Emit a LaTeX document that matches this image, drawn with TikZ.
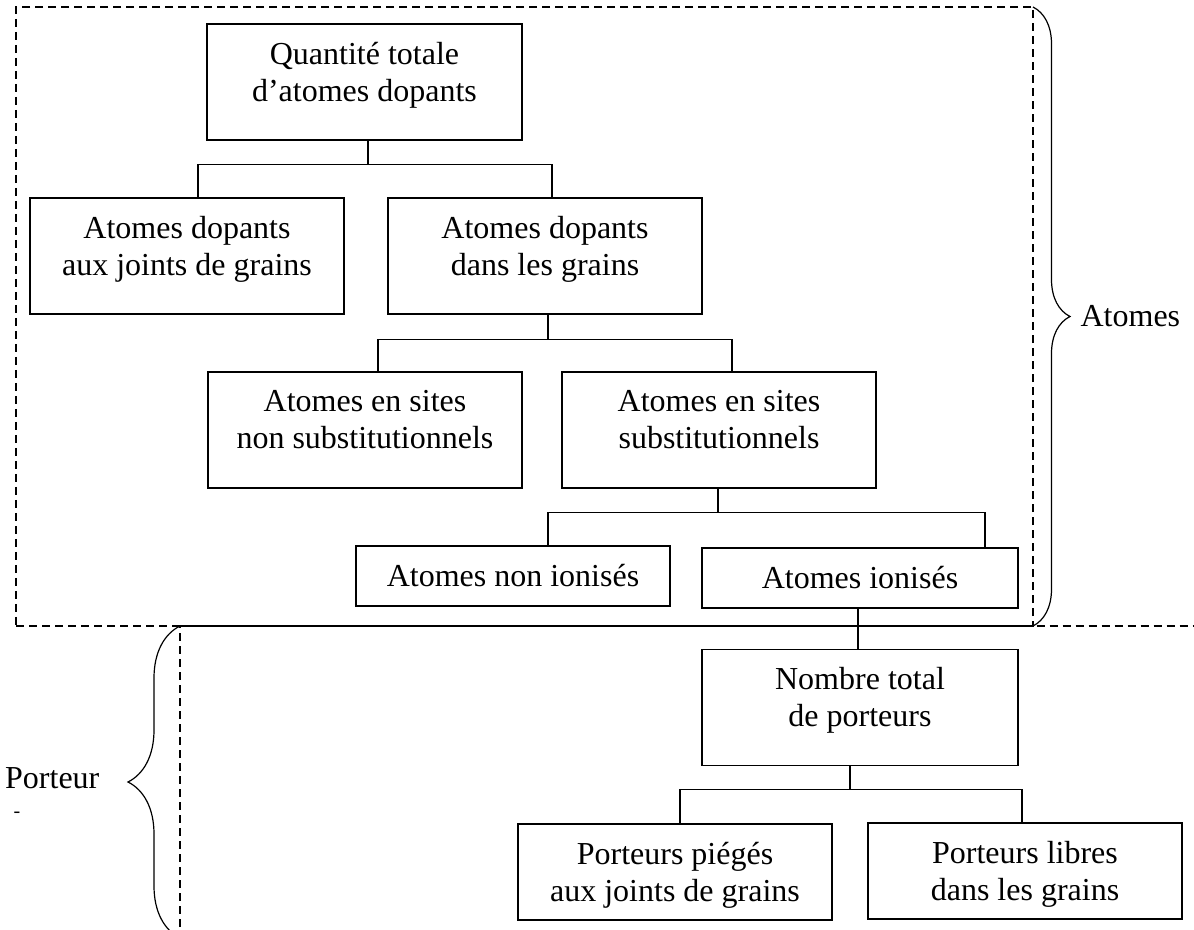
\documentclass[tikz,border=0pt]{standalone}
\usepackage{fontspec}
\setmainfont{Liberation Serif}
\usetikzlibrary{decorations.pathreplacing,positioning}

\begin{document}
\begin{tikzpicture}[
  x=0.5pt, y=-0.5pt,
  font=\fontsize{16}{18.5}\selectfont,
  box/.style={draw, line width=0.6pt, align=center, inner sep=0pt, minimum width=157pt},
  tall/.style={box, minimum height=58pt, text depth=10.4pt},
  flat/.style={box, minimum height=30pt},
  low/.style={box, minimum height=48pt},
  link/.style={line width=0.6pt},
  zone/.style={line width=0.6pt, dash pattern=on 4pt off 2.5pt},
  brc/.style={line width=0.6pt, decorate, decoration={brace, amplitude=#1}},
  lbl/.style={inner sep=0pt},
]
  \useasboundingbox (0,0) rectangle (1194,930);

  % ---------------- atoms ----------------
  \node[tall, minimum width=157.5pt] (tot) at (364.5,82) {Quantité totale\\d’atomes dopants};
  \node[tall] (djg) at (187,256) {Atomes dopants\\aux joints de grains};
  \node[tall] (dgr) at (545,256) {Atomes dopants\\dans les grains};
  \node[tall] (nsub) at (365,430) {Atomes en sites\\non substitutionnels};
  \node[tall] (sub) at (719,430) {Atomes en sites\\substitutionnels};
  \node[flat] (nion) at (513,576) {Atomes non ionisés};
  \node[flat, minimum width=158pt] (ion) at (860,578) {Atomes ionisés};

  % ---------------- carriers ----------------
  \node[tall, minimum width=158pt, below=20pt of ion] (port) {Nombre total\\de porteurs};
  \node[low, text depth=0pt] (pieg) at (675,872) {Porteurs piégés\\aux joints de grains};
  \node[low, text depth=0pt] (libr) at (1025,871) {Porteurs libres\\dans les grains};

  % tree links
  \draw[link] ([xshift=1.75pt]tot.south) -- ++(0,24) coordinate (j1);
  \draw[link] ([xshift=5.5pt]djg.north) |- (j1) -| ([xshift=3.5pt]dgr.north);
  \draw[link] ([xshift=1.5pt]dgr.south) -- ++(0,25) coordinate (j2);
  \draw[link] ([xshift=6.5pt]nsub.north) |- (j2) -| ([xshift=6.5pt]sub.north);
  \draw[link] ([xshift=-0.5pt]sub.south) -- ++(0,24) coordinate (j3);
  \draw[link] ([xshift=17.5pt]nion.north) |- (j3) -| ([xshift=62.5pt]ion.north);
  \draw[link] ([xshift=-1pt]ion.south) -- ([xshift=-1pt]port.north);
  \draw[link] ([xshift=-5pt]port.south) -- ++(0,24) coordinate (j4);
  \draw[link] ([xshift=2.5pt]pieg.north) |- (j4) -| ([xshift=-1.5pt]libr.north);

  % dashed zones and braces
  \draw[zone] (16,626) -- (1033,626) -- (1033,7) -- (16,7) -- cycle;
  \draw[zone, dash phase=0.75pt] (180,938) -- (180,626) -- (1194,626);
  \draw[brc=18.5pt] (1033,7) -- (1033,626) node[lbl, midway, right=23.5pt] (atomes) {Atomes};
  \draw[brc=26pt] (180,938) -- (180,626) node[lbl, midway, left=40pt, yshift=2pt] (porteur) {Porteur};
  \node[lbl, font=\fontsize{10}{12}\selectfont] (tiret) at (17,815) {-};
\end{tikzpicture}
\end{document}
